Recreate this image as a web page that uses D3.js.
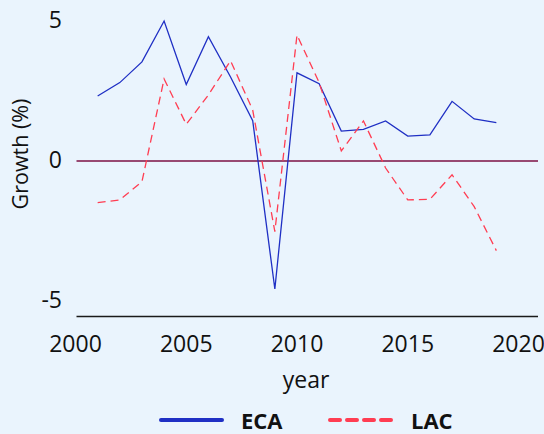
<!DOCTYPE html>
<html><head><meta charset="utf-8">
<script src="https://cdn.jsdelivr.net/npm/d3@7"></script>
<style>body{margin:0;background:#eaf4fd}svg{display:block}</style>
</head><body>
<svg id="chart" width="544" height="434"></svg>
<script>
const years = [2001,2002,2003,2004,2005,2006,2007,2008,2009,2010,2011,2012,2013,2014,2015,2016,2017,2018,2019];
const eca = [2.32,2.80,3.54,5.00,2.73,4.44,3.00,1.44,-4.57,3.15,2.76,1.07,1.13,1.43,0.89,0.93,2.13,1.50,1.37];
const lac = [-1.49,-1.39,-0.74,2.93,1.31,2.36,3.58,1.82,-2.52,4.50,2.80,0.36,1.43,-0.25,-1.39,-1.37,-0.49,-1.63,-3.20];
const xTicks = [2000,2005,2010,2015,2020];
const yTicks = [-5,0,5];
const seriesNames = ["ECA","LAC"];

const svg = d3.select("#chart");
svg.append("rect").attr("width",544).attr("height",434).attr("fill","#eaf4fd");
const font = "'Open Sans', 'Noto Sans', sans-serif";

const x = d3.scaleLinear().domain([2000,2020]).range([75.5,518.5]);
const y = d3.scaleLinear().domain([-5,5]).range([301,21]);
const left = 76.5, right = 538;

// x axis line at bottom
svg.append("line").attr("x1",left).attr("x2",right).attr("y1",316.5).attr("y2",316.5)
  .attr("stroke","#1a1a1a").attr("stroke-width",1.5);

// zero reference line
svg.append("line").attr("x1",left).attr("x2",right).attr("y1",y(0)).attr("y2",y(0))
  .attr("stroke","#7d1143").attr("stroke-width",1.5);

// y tick labels
svg.selectAll(".yt").data(yTicks).enter().append("text")
  .attr("x",62).attr("y",d=>y(d)-1).attr("dy","0.35em").attr("text-anchor","end")
  .attr("font-family",font).attr("font-size",23).attr("fill","#111")
  .text(d=>d);

// x tick labels
svg.selectAll(".xt").data(xTicks).enter().append("text")
  .attr("x",d=>x(d)).attr("y",352).attr("text-anchor","middle")
  .attr("font-family",font).attr("font-size",23).attr("fill","#111")
  .text(d=>d);

// axis titles
svg.append("text").attr("x",306).attr("y",388).attr("text-anchor","middle")
  .attr("font-family",font).attr("font-size",23).attr("fill","#111").text("year");
svg.append("text").attr("transform","translate(28,154) rotate(-90)").attr("text-anchor","middle")
  .attr("font-family",font).attr("font-size",21.5).attr("fill","#111").text("Growth (%)");

const line = d3.line().x(d=>x(d[0])).y(d=>y(d[1]));
svg.append("path").datum(years.map((yr,i)=>[yr,eca[i]])).attr("d",line)
  .attr("fill","none").attr("stroke","#1f2fc4").attr("stroke-width",1.3);
svg.append("path").datum(years.map((yr,i)=>[yr,lac[i]])).attr("d",line)
  .attr("fill","none").attr("stroke","#ff3d52").attr("stroke-width",1.3)
  .attr("stroke-dasharray","8,5");

// legend
const lg = svg.append("g");
lg.append("line").attr("x1",161).attr("x2",222).attr("y1",420).attr("y2",420)
  .attr("stroke","#1f2fc4").attr("stroke-width",4).attr("stroke-linecap","round");
lg.append("text").attr("x",241).attr("y",429).attr("font-family",font).attr("font-size",22)
  .attr("font-weight","bold").attr("fill","#111").text(seriesNames[0]);
lg.append("line").attr("x1",330).attr("x2",393).attr("y1",420).attr("y2",420)
  .attr("stroke","#ff3d52").attr("stroke-width",4).attr("stroke-dasharray","10,7").attr("stroke-linecap","round");
lg.append("text").attr("x",411).attr("y",429).attr("font-family",font).attr("font-size",22)
  .attr("font-weight","bold").attr("fill","#111").text(seriesNames[1]);
</script>
</body></html>
